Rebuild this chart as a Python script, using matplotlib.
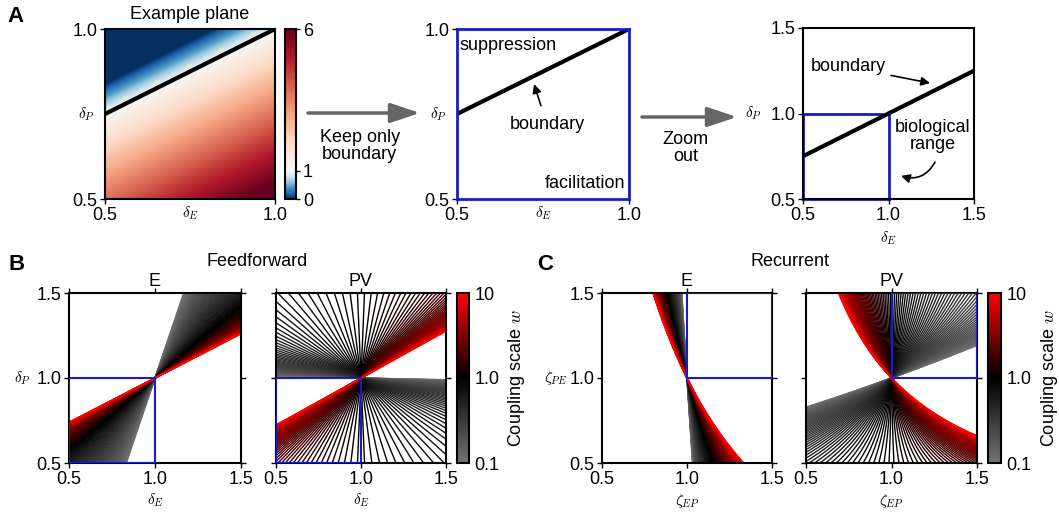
import numpy as np
import matplotlib.pyplot as plt
from matplotlib.colors import LinearSegmentedColormap, LogNorm, TwoSlopeNorm
from matplotlib.patches import FancyArrowPatch, Rectangle

plt.rcParams['font.family'] = ['Liberation Sans', 'DejaVu Sans']
plt.rcParams['mathtext.fontset'] = 'cm'
plt.rcParams['font.size'] = 13

# ---------------- data ----------------
# example plane (panel A): boundary line and response scale
boundary_dE = [0.5, 1.0, 1.5]
boundary_dP = [0.75, 1.0, 1.25]
example_gain = 11.0            # response change per unit distance below the boundary
example_ticks = [0, 1, 6]

# coupling scale sweep shown in B and C
coupling_range = [0.1, 10.0]
n_couplings = 120
coupling_ticks = [0.1, 1.0, 10.0]
coupling_ticklabels = ['0.1', '1.0', '10']

# boundary families: alpha*(x-1) + beta*(y-1) + gamma*(x*y-1) = 0
# each coefficient = [c0, c1] -> c0 + c1*w
ff_e = {'alpha': [0.415, 0.481], 'beta': [-0.054, -1.0], 'gamma': [0.0, 0.0]}
ff_pv = {'alpha': [-0.032, 0.5], 'beta': [1.0, -1.0], 'gamma': [0.0, 0.0]}
rec_e = {'alpha': [2.0, 0.804], 'beta': [0.0, 0.0], 'gamma': [0.0387, 1.0]}
rec_pv = {'alpha': [0.232, -0.0712], 'beta': [-1.0, 0.0], 'gamma': [0.0, 1.0]}

bio_ff = [0.5, 1.0]    # biological range, feedforward (delta)
bio_rec = [1.0, 1.5]   # biological range, recurrent (zeta)
# ---------------------------------------

W, H = 1059, 518
def box(l, t, r, b):
    return [l / W, 1 - b / H, (r - l) / W, (b - t) / H]

blue = (0.1, 0.1, 0.8)
grey = (0.4, 0.4, 0.4)
cmap_w = LinearSegmentedColormap.from_list('coupling', [(0.45, 0.45, 0.45), (0, 0, 0), (1, 0, 0)])
norm_w = LogNorm(coupling_range[0], coupling_range[1])

fig = plt.figure(figsize=(W / 100, H / 100), dpi=100)

def style(ax, ticks, lw=1.5):
    ax.set_xlim(ticks[0], ticks[-1])
    ax.set_ylim(ticks[0], ticks[-1])
    ax.set_xticks(ticks)
    ax.set_yticks(ticks)
    ax.set_xticklabels(['%.1f' % t for t in ticks])
    ax.set_yticklabels(['%.1f' % t for t in ticks])
    ax.tick_params(direction='out', length=3.5, width=1, pad=2, labelsize=13)
    for s in ax.spines.values():
        s.set_linewidth(lw)

# ---- A1: example plane ----
ax1 = fig.add_axes(box(105, 29, 275, 199))
dE = np.linspace(0.5, 1.0, 300)
dP = np.linspace(0.5, 1.0, 300)
DE, DP = np.meshgrid(dE, dP)
line_dP = np.interp(DE, boundary_dE, boundary_dP)
Z = 1 + example_gain * (line_dP - DP)
norm_a = TwoSlopeNorm(vmin=0, vcenter=1, vmax=6)
im = ax1.imshow(Z, origin='lower', extent=[0.5, 1, 0.5, 1], cmap='RdBu_r', norm=norm_a, aspect='auto')
ax1.plot(boundary_dE[:2], boundary_dP[:2], color='k', lw=3, solid_capstyle='butt')
style(ax1, [0.5, 1.0])
ax1.set_title('Example plane', fontsize=13, pad=7)
ax1.set_xlabel(r'$\delta_E$', fontsize=11)
ax1.xaxis.set_label_coords(0.5, -0.03)
ax1.xaxis.label.set_va('top')
ax1.set_ylabel(r'$\delta_P$', fontsize=11, rotation=0, ha='center', va='center')
ax1.yaxis.set_label_coords(-0.11, 0.5)

cax1 = fig.add_axes(box(285, 29, 296, 199))
cb1 = fig.colorbar(im, cax=cax1, ticks=example_ticks)
cb1.ax.set_yscale('linear')
cb1.set_ticks(example_ticks)
cb1.ax.tick_params(length=3, width=1, pad=2, labelsize=13)
cb1.outline.set_linewidth(1.5)

# ---- A2: boundary only ----
ax2 = fig.add_axes(box(457, 29, 629, 199))
ax2.plot(boundary_dE[:2], boundary_dP[:2], color='k', lw=3, solid_capstyle='butt')
style(ax2, [0.5, 1.0], lw=2)
for s in ax2.spines.values():
    s.set_color(blue)
ax2.text(0.506, 0.95, 'suppression', ha='left', va='center', fontsize=13)
ax2.text(0.99, 0.547, 'facilitation', ha='right', va='center', fontsize=13)
ax2.annotate('boundary', xy=(0.724, 0.838), xytext=(0.762, 0.718), ha='center', va='center',
             fontsize=13, arrowprops=dict(arrowstyle='-|>', color='k', lw=1.2, shrinkA=6, shrinkB=0))
ax2.set_xlabel(r'$\delta_E$', fontsize=11)
ax2.xaxis.set_label_coords(0.5, -0.03)
ax2.xaxis.label.set_va('top')
ax2.set_ylabel(r'$\delta_P$', fontsize=11, rotation=0, ha='center', va='center')
ax2.yaxis.set_label_coords(-0.11, 0.5)

# ---- A3: zoom out ----
ax3 = fig.add_axes(box(803, 28, 974, 199))
ax3.plot(boundary_dE, boundary_dP, color='k', lw=3, solid_capstyle='butt')
ax3.add_patch(Rectangle((bio_ff[0], bio_ff[0]), bio_ff[1] - bio_ff[0], bio_ff[1] - bio_ff[0],
                        fill=False, ec=blue, lw=2, clip_on=False))
style(ax3, [0.5, 1.0, 1.5])
ax3.annotate('boundary', xy=(1.243, 1.178), xytext=(0.763, 1.272), ha='center', va='center',
             fontsize=13, arrowprops=dict(arrowstyle='-|>', color='k', lw=1.2, shrinkA=2, shrinkB=0))
ax3.text(1.26, 0.868, 'biological\nrange', ha='center', va='center', fontsize=13, linespacing=1.0)
ax3.annotate('', xy=(1.073, 0.635), xytext=(1.272, 0.716),
             arrowprops=dict(arrowstyle='-|>', color='k', lw=1.2, shrinkA=0, shrinkB=0,
                             connectionstyle='arc3,rad=-0.4'))
ax3.set_xlabel(r'$\delta_E$', fontsize=11, labelpad=4)
ax3.set_ylabel(r'$\delta_P$', fontsize=11, rotation=0, ha='center', va='center')
ax3.yaxis.set_label_coords(-0.29, 0.5)

# arrows between A panels
for x0, x1, y, label, ty in [(308, 420, 113, 'Keep only\nboundary', 146), (642, 737, 117, 'Zoom\nout', 148)]:
    fig.add_artist(FancyArrowPatch((x0 / W, 1 - y / H), (x1 / W, 1 - y / H), transform=fig.transFigure,
                                   arrowstyle='-|>,head_length=18,head_width=6', mutation_scale=1,
                                   lw=2.5, color=grey, shrinkA=0, shrinkB=0))
    fig.text((x0 + x1) / 2 / W - 0.004, 1 - ty / H, label, ha='center', va='center', fontsize=13, linespacing=1.0)

# ---- B and C: coupling fans ----
w_vals = np.logspace(np.log10(coupling_range[0]), np.log10(coupling_range[1]), n_couplings)
gx, gy = np.meshgrid(np.linspace(0.45, 1.55, 401), np.linspace(0.45, 1.55, 401))

def fan(ax, coef):
    for w in w_vals:
        a = coef['alpha'][0] + coef['alpha'][1] * w
        b = coef['beta'][0] + coef['beta'][1] * w
        g = coef['gamma'][0] + coef['gamma'][1] * w
        F = a * (gx - 1) + b * (gy - 1) + g * (gx * gy - 1)
        ax.contour(gx, gy, F, levels=[0], colors=[cmap_w(norm_w(w))], linewidths=1.0)

panels = [
    (box(69, 293, 241, 463), ff_e, bio_ff, 'E', r'$\delta_E$', r'$\delta_P$', True),
    (box(276, 293, 446, 463), ff_pv, bio_ff, 'PV', r'$\delta_E$', None, False),
    (box(602, 293, 772, 463), rec_e, bio_rec, 'E', r'$\zeta_{EP}$', r'$\zeta_{PE}$', True),
    (box(806, 293, 977, 463), rec_pv, bio_rec, 'PV', r'$\zeta_{EP}$', None, False),
]
for rect, coef, bio, title, xl, yl, left in panels:
    ax = fig.add_axes(rect)
    fan(ax, coef)
    ax.add_patch(Rectangle((bio[0], bio[0]), bio[1] - bio[0], bio[1] - bio[0],
                           fill=False, ec=blue, lw=1.5, zorder=5))
    style(ax, [0.5, 1.0, 1.5])
    ax.tick_params(top=True, right=True, labelleft=left)
    ax.set_title(title, fontsize=13, pad=5)
    ax.set_xlabel(xl, fontsize=11, labelpad=3)
    if yl:
        ax.set_ylabel(yl, fontsize=11, rotation=0, ha='center', va='center')
        ax.yaxis.set_label_coords(-0.27, 0.5)

sm = plt.cm.ScalarMappable(norm=norm_w, cmap=cmap_w)
for l, r in [(457, 469), (988, 1001)]:
    cax = fig.add_axes(box(l, 293, r, 463))
    cb = fig.colorbar(sm, cax=cax)
    cb.set_ticks(coupling_ticks)
    cb.set_ticklabels(coupling_ticklabels)
    cb.ax.minorticks_off()
    cb.ax.tick_params(length=0, pad=4, labelsize=13)
    cb.outline.set_linewidth(1.5)
    cb.set_label('Coupling scale $w$', fontsize=13, labelpad=5)

fig.text(257 / W, 1 - 261 / H, 'Feedforward', ha='center', va='center', fontsize=13)
fig.text(790 / W, 1 - 261 / H, 'Recurrent', ha='center', va='center', fontsize=13)
fig.text(16 / W, 1 - 16 / H, 'A', ha='center', va='center', fontsize=16, fontweight='bold')
fig.text(17 / W, 1 - 265 / H, 'B', ha='center', va='center', fontsize=16, fontweight='bold')
fig.text(545 / W, 1 - 265 / H, 'C', ha='center', va='center', fontsize=16, fontweight='bold')

fig.savefig('out.png', dpi=100)
